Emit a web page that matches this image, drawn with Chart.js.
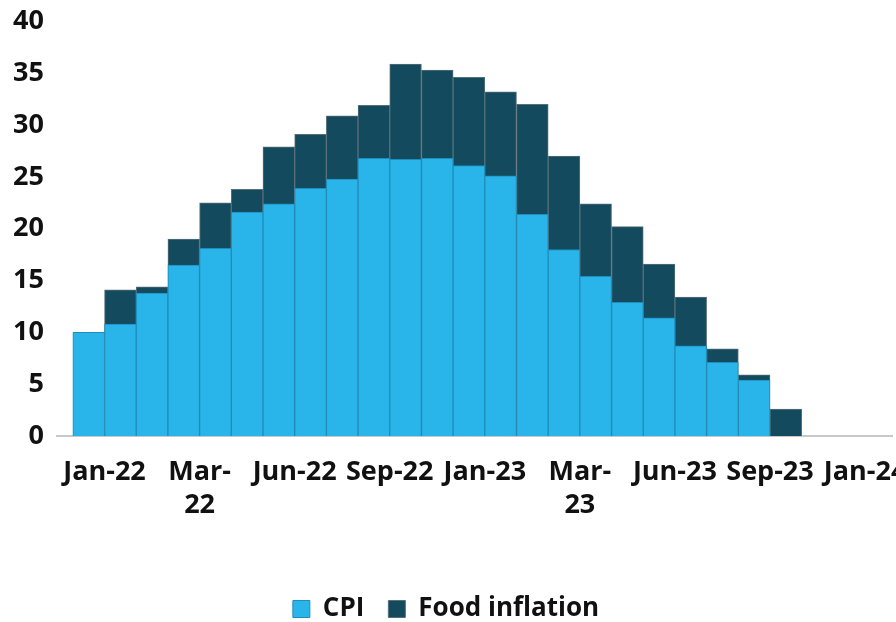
<!DOCTYPE html>
<html>
<head>
<meta charset="utf-8">
<script src="https://cdn.jsdelivr.net/npm/chart.js@4.4.1/dist/chart.umd.min.js"></script>
<style>
  html, body { margin: 0; padding: 0; background: #fff; overflow: hidden; }
  #wrap { width: 940px; height: 622px; }
</style>
</head>
<body>
<div id="wrap"><canvas id="chart" width="940" height="622"></canvas></div>
<script>
// Monthly values (%)
const months = ['Jan-22', 'Feb-22', 'Mar-22', 'Apr-22', 'May-22', 'Jun-22', 'Jul-22', 'Aug-22',
  'Sep-22', 'Oct-22', 'Nov-22', 'Dec-22', 'Jan-23', 'Feb-23', 'Mar-23', 'Apr-23', 'May-23',
  'Jun-23', 'Jul-23', 'Aug-23', 'Sep-23', 'Oct-23', 'Nov-23'];
const cpi = [10.0, 10.8, 13.8, 16.5, 18.1, 21.6, 22.4, 23.9, 24.8, 26.8, 26.7, 26.8, 26.1,
  25.1, 21.4, 18.0, 15.4, 12.9, 11.4, 8.7, 7.1, 5.4, null];
const food = [null, 14.1, 14.4, 19.0, 22.5, 23.8, 27.9, 29.1, 30.9, 31.9, 35.9, 35.3, 34.6,
  33.2, 32.0, 27.0, 22.4, 20.2, 16.6, 13.4, 8.4, 5.9, 2.6];

// axis ticks sit between bars, every third month
const tickAt = [0.5, 3.5, 6.5, 9.5, 12.5, 15.5, 18.5, 21.5, 24.5];
const tickLabels = ['Jan-22', ['Mar-', '22'], 'Jun-22', 'Sep-22', 'Jan-23', ['Mar-', '23'],
  'Jun-23', 'Sep-23', 'Jan-24'];

const axisFont = { family: "'Open Sans', sans-serif", weight: 'bold', size: 27, lineHeight: 1.22 };
const legendFont = { family: "'Open Sans', sans-serif", weight: 'bold', size: 26 };

const ctx = document.getElementById('chart').getContext('2d');
new Chart(ctx, {
  type: 'bar',
  data: {
    datasets: [
      {
        label: 'CPI',
        data: cpi.map((v, i) => ({ x: i, y: v })),
        backgroundColor: '#29b4ea',
        borderColor: '#1f8dbb',
        borderWidth: 1,
        grouped: false,
        barPercentage: 1,
        categoryPercentage: 1
      },
      {
        label: 'Food inflation',
        data: food.map((v, i) => ({ x: i, y: v })),
        backgroundColor: '#144a5d',
        borderColor: '#56707a',
        borderWidth: 1,
        grouped: false,
        barPercentage: 1,
        categoryPercentage: 1
      }
    ]
  },
  options: {
    responsive: false,
    animation: false,
    layout: { padding: { top: 18, right: 48, bottom: -10, left: 0 } },
    scales: {
      x: {
        type: 'linear',
        offset: false,
        min: -1,
        max: 25.35,
        grid: { display: false },
        border: { display: true, color: '#c8c8c8', width: 2 },
        afterBuildTicks: s => { s.ticks = tickAt.map(v => ({ value: v })); },
        afterFit: s => { s.height = 136; },
        ticks: {
          color: '#111',
          font: axisFont,
          padding: 12,
          maxRotation: 0,
          autoSkip: false,
          callback: (v) => tickLabels[tickAt.indexOf(v)]
        }
      },
      y: {
        min: 0,
        max: 40,
        grid: { display: false },
        border: { display: false },
        afterFit: s => { s.width = 57; },
        ticks: { stepSize: 5, color: '#111', font: axisFont, padding: 5 }
      }
    },
    plugins: {
      legend: {
        position: 'bottom',
        labels: { color: '#111', font: legendFont, boxWidth: 17, boxHeight: 17, padding: 24 }
      },
      tooltip: { enabled: false }
    }
  }
});
</script>
</body>
</html>
